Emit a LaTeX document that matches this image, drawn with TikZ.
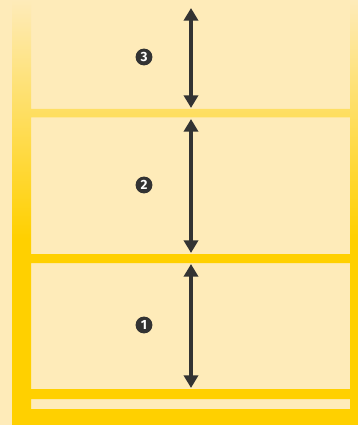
\documentclass[tikz,border=0pt]{standalone}
\usepackage{fontspec}
\setsansfont{Fira Sans}
\usetikzlibrary{arrows.meta}
\definecolor{paper}{HTML}{FEEBB9}
\definecolor{gold}{HTML}{FFD000}
\definecolor{ink}{HTML}{333333}
\pgfdeclareverticalshading{rise}{100bp}{color(0bp)=(gold); color(47bp)=(gold); color(75bp)=(paper); color(100bp)=(paper)}
\begin{document}
\begin{tikzpicture}[x=0.025cm, y=-0.025cm,
	level/.style={line width=3.3pt, draw=ink, {Triangle[width=10pt, length=9pt]}-{Triangle[width=10pt, length=9pt]}},
	badge/.style={circle, fill=ink, text=white, inner sep=0pt, minimum size=12pt,
	font=\sffamily\bfseries\fontsize{9.5}{10}\selectfont}]
			\useasboundingbox (0,0) rectangle (358,425);
			\fill[paper] (0,0) rectangle (358,425);
			\shade[shading=rise]
			(12,0) rectangle (31,425)
			(350,0) rectangle (358,425)
			(31,109) rectangle (350,117.5)
			(31,254) rectangle (350,263)
			(31,389) rectangle (350,399)
			(31,409) rectangle (350,425);
			\coordinate (top3) at (191,8);
			\coordinate (bot3) at (191,108);
			\coordinate (top2) at (191,119);
			\coordinate (bot2) at (191,253);
			\coordinate (top1) at (191,264);
			\coordinate (bot1) at (191,388);
			\node[badge] (n3) at (144,57) {3};
			\node[badge] (n2) at (144,185) {2};
			\node[badge] (n1) at (144,325) {1};
			\draw[level] (top3) -- (bot3);
			\draw[level] (top2) -- (bot2);
			\draw[level] (top1) -- (bot1);
		\end{tikzpicture}
\end{document}
